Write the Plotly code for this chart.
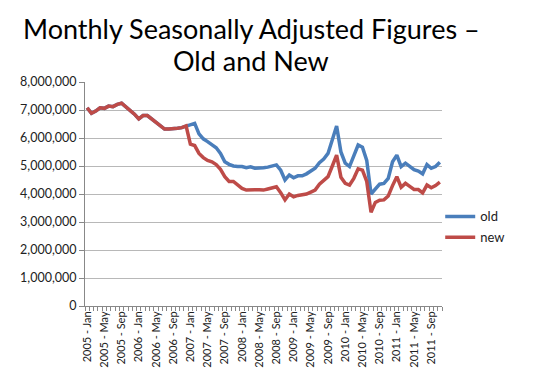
import plotly.graph_objects as go

months = ["Jan", "Feb", "Mar", "Apr", "May", "Jun", "Jul", "Aug", "Sep", "Oct", "Nov", "Dec"]
categories = [f"{y} - {m}" for y in range(2005, 2012) for m in months][:83]

shared = [7.08, 6.88, 6.96, 7.08, 7.06, 7.14, 7.12, 7.20, 7.24, 7.12,
          7.00, 6.85, 6.68, 6.80, 6.80, 6.68, 6.56, 6.44, 6.32, 6.32,
          6.32, 6.35, 6.37, 6.43]

old_tail = [6.47, 6.52, 6.15, 5.97, 5.87, 5.77, 5.65, 5.45, 5.15, 5.06,
            5.00, 4.98, 4.98, 4.94, 4.97, 4.92, 4.92, 4.94, 4.96, 5.00,
            5.04, 4.85, 4.50, 4.68, 4.58, 4.65, 4.65, 4.72, 4.82, 4.92,
            5.12, 5.25, 5.45, 5.95, 6.43, 5.50, 5.10, 4.98, 5.35, 5.75,
            5.67, 5.20, 4.00, 4.20, 4.35, 4.38, 4.56, 5.15, 5.39, 4.98,
            5.10, 4.99, 4.87, 4.82, 4.72, 5.05, 4.92, 4.98, 5.13]

new_tail = [5.78, 5.73, 5.45, 5.30, 5.20, 5.15, 5.05, 4.88, 4.62, 4.45,
            4.45, 4.33, 4.20, 4.14, 4.16, 4.15, 4.15, 4.14, 4.18, 4.22,
            4.26, 4.05, 3.79, 4.00, 3.90, 3.95, 3.97, 4.00, 4.07, 4.14,
            4.35, 4.47, 4.62, 5.00, 5.39, 4.60, 4.38, 4.32, 4.56, 4.90,
            4.85, 4.45, 3.35, 3.70, 3.78, 3.79, 3.93, 4.30, 4.62, 4.24,
            4.38, 4.27, 4.16, 4.16, 4.04, 4.32, 4.22, 4.30, 4.42]

old_vals = [v * 1_000_000 for v in shared + old_tail]
new_vals = [v * 1_000_000 for v in shared + new_tail]

y_ticks = list(range(0, 8_000_001, 1_000_000))

title_lines = ["Monthly Seasonally Adjusted Figures –", "Old and New"]

x_idx = list(range(len(categories)))
label_idx = x_idx[::4]
label_text = [categories[i] for i in label_idx]

fig = go.Figure()
fig.add_trace(go.Scatter(x=x_idx, y=old_vals, mode="lines", name="old", legendgroup="a",
                         line=dict(color="#4A7EBB", width=3.5)))
fig.add_trace(go.Scatter(x=x_idx, y=new_vals, mode="lines", name="new", legendgroup="b",
                         line=dict(color="#BE4B48", width=3.5)))

for txt, yy in zip(title_lines, [1.241, 1.098]):
    fig.add_annotation(text=txt, xref="paper", yref="paper", x=0.465, y=yy,
                       xanchor="center", yanchor="middle", showarrow=False,
                       font=dict(size=27, family="Lato, Open Sans, sans-serif", color="#000"))

fig.update_layout(
    width=530, height=375,
    margin=dict(l=77, r=96, t=74, b=77, autoexpand=False),
    paper_bgcolor="white", plot_bgcolor="white",
    font=dict(family="Lato, Open Sans, sans-serif", color="#000000"),
    showlegend=True,
    legend=dict(x=0.995, y=0.353, xanchor="left", yanchor="middle",
                font=dict(size=13, color="#222"), bgcolor="rgba(0,0,0,0)",
                itemwidth=30, tracegroupgap=1),
    xaxis=dict(range=[-0.5, len(categories) - 0.5], automargin=False,
               tickmode="array", tickvals=label_idx, ticktext=label_text,
               tickangle=-90, ticks="", showgrid=False, zeroline=False,
               showline=True, linecolor="#888888", linewidth=1,
               tickfont=dict(size=11, color="#222"),
               minor=dict(tickmode="linear", tick0=-0.5, dtick=1, ticks="outside",
                          ticklen=4, tickcolor="#888888", showgrid=False)),
    yaxis=dict(range=[0, 8_000_000], tickvals=y_ticks, tickformat=",d", automargin=False,
               showgrid=True, gridcolor="#b8b8b8", gridwidth=1,
               zeroline=False, showline=True, linecolor="#888888", linewidth=1,
               ticks="outside", ticklen=5, tickcolor="#888888",
               tickfont=dict(size=12.5, color="#222")),
)

fig.write_html("out.html")
